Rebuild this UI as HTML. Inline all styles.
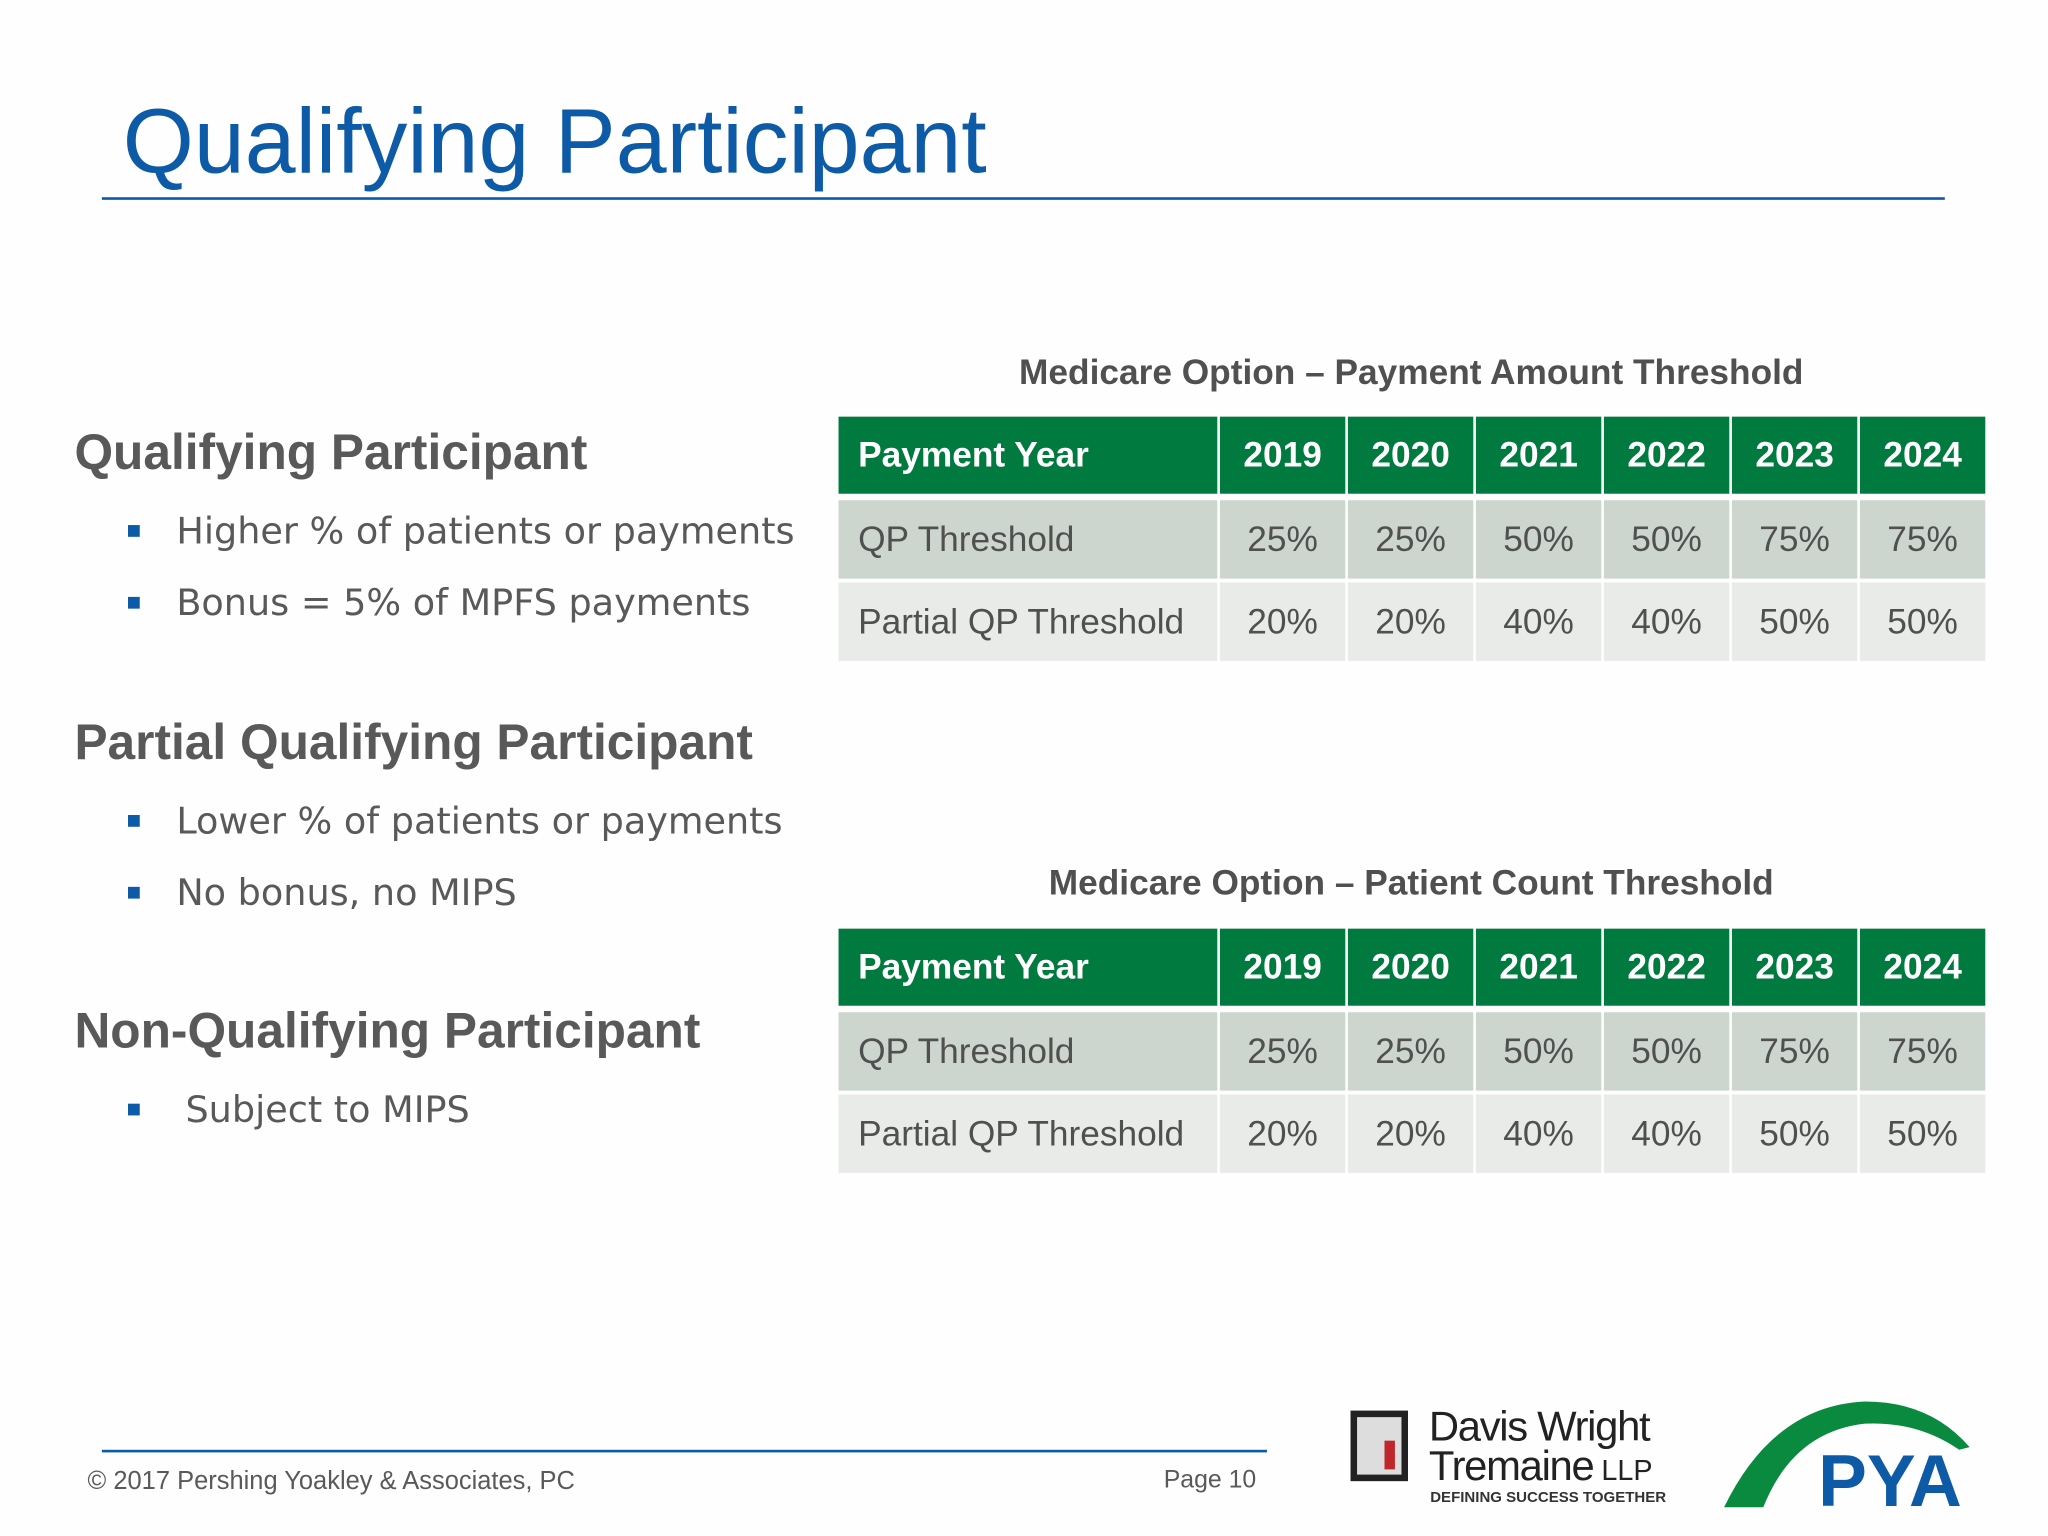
<!DOCTYPE html>
<html><head><meta charset="utf-8"><style>
html,body{margin:0;padding:0;background:#fff;width:2048px;height:1536px;overflow:hidden}
#slide{position:absolute;left:0;top:0;width:1568px;height:1176px;transform:scale(1.306122);transform-origin:0 0;font-family:"Liberation Sans",sans-serif;color:#595959;background:#fefefe}
.abs{position:absolute;white-space:nowrap}
.h2{font-weight:bold;font-size:38px;color:#595959}
.bul{font-size:28px;color:#595959;font-family:"DejaVu Sans",sans-serif}
.sq{position:absolute;width:9px;height:9px;background:#0d5aa7}
.ttl{font-weight:bold;font-size:27px;color:#505050;text-align:center;width:877px}
.cell{position:absolute;box-sizing:border-box;font-size:27px;display:flex;align-items:center;justify-content:center}
</style></head><body>
<div id="slide">
<div class="abs" style="left:94px;top:68px;font-size:70px;color:#0d5aa7">Qualifying Participant</div>
<div class="abs" style="left:78px;top:151px;width:1411px;height:2px;background:#0d5aa7"></div>

<div class="abs h2" style="left:57px;top:326px">Qualifying Participant</div>
<div class="sq" style="left:98px;top:402px"></div>
<div class="abs bul" style="left:135px;top:390px">Higher % of patients or payments</div>
<div class="sq" style="left:98px;top:457px"></div>
<div class="abs bul" style="left:135px;top:445px">Bonus = 5% of MPFS payments</div>

<div class="abs h2" style="left:57px;top:548px">Partial Qualifying Participant</div>
<div class="sq" style="left:98px;top:624px"></div>
<div class="abs bul" style="left:135px;top:612px">Lower % of patients or payments</div>
<div class="sq" style="left:98px;top:679px"></div>
<div class="abs bul" style="left:135px;top:667px">No bonus, no MIPS</div>

<div class="abs h2" style="left:57px;top:769px">Non-Qualifying Participant</div>
<div class="sq" style="left:98px;top:845px"></div>
<div class="abs bul" style="left:142px;top:833px">Subject to MIPS</div>

<div class="abs ttl" style="left:642px;top:270px">Medicare Option – Payment Amount Threshold</div>
<div id="t1"></div>
<div class="abs ttl" style="left:642px;top:661px">Medicare Option – Patient Count Threshold</div>
<div id="t2"></div>

<div class="abs" style="left:78px;top:1110px;width:892px;height:2px;background:#0d5aa7"></div>
<div class="abs" style="left:67px;top:1123px;font-size:19.5px;color:#595959">© 2017 Pershing Yoakley &amp; Associates, PC</div>
<div class="abs" style="left:891px;top:1123px;font-size:19px;color:#595959">Page 10</div>

<div class="abs" style="left:1034px;top:1078px;width:250px;height:80px">
 <div style="position:absolute;left:0;top:2px;width:44px;height:54px;border:5px solid #222;box-sizing:border-box;background:#ddd"></div>
 <div style="position:absolute;left:26px;top:25px;width:8px;height:22px;background:#c0272d"></div>
 <div style="position:absolute;left:60px;top:-4px;font-size:32px;color:#222;letter-spacing:-1px">Davis Wright</div>
 <div style="position:absolute;left:60px;top:26px;font-size:32px;color:#222;letter-spacing:-1px">Tremaine<span style="font-size:22px;letter-spacing:0"> LLP</span></div>
 <div style="position:absolute;left:61px;top:63px;font-size:11.5px;font-weight:bold;color:#333">DEFINING SUCCESS TOGETHER</div>
</div>
<svg class="abs" style="left:1318px;top:1068px" width="210" height="90">
 <path d="M2 86 Q40 8 110 5 Q160 5 190 40 L182 42 Q150 20 110 22 Q55 28 32 86 Z" fill="#0a8a3e"/>
 <text x="74" y="85" font-family="Liberation Sans" font-weight="bold" font-size="56" fill="#0d5aa7">PYA</text>
</svg>
</div>
<script>
const years = ["2019","2020","2021","2022","2023","2024"];
const rowLabels = ["QP Threshold","Partial QP Threshold"];
const t1QP = ["25%","25%","50%","50%","75%","75%"];
const t1Partial = ["20%","20%","40%","40%","50%","50%"];
const t2QP = ["25%","25%","50%","50%","75%","75%"];
const t2Partial = ["20%","20%","40%","40%","50%","50%"];
function cell(parent,x,y,w,h,bg,txt,color,bold,left){
  const d=document.createElement('div');
  d.className='cell';
  d.style.cssText=`left:${x}px;top:${y}px;width:${w}px;height:${h}px;background:${bg};color:${color};${bold?'font-weight:bold;':''}${left?'justify-content:flex-start;padding-left:15px;':''}`;
  d.textContent=txt;
  
  
  parent.appendChild(d);
}
function table(id,top,qp,partial){
  const p=document.getElementById(id);
  const x0=642, firstW=290, colW=98, hh=59, rh=60;
  cell(p,x0,top,firstW,hh,'#007a3e','Payment Year','#fff',true,true);
  years.forEach((y,i)=>cell(p,x0+firstW+i*colW+2,top,colW-2,hh,'#007a3e',y,'#fff',true,false));
  const rows=[qp,partial], bgs=['#ccd6cf','#e8ebe8'];
  rows.forEach((r,j)=>{
    const y=top+hh+5+j*(rh+3);
    cell(p,x0,y,firstW,rh,bgs[j],rowLabels[j],'#505050',false,true);
    r.forEach((v,i)=>cell(p,x0+firstW+i*colW+2,y,colW-2,rh,bgs[j],v,'#505050',false,false));
  });
}
table('t1',319,t1QP,t1Partial);
table('t2',711,t2QP,t2Partial);
</script>
</body></html>
